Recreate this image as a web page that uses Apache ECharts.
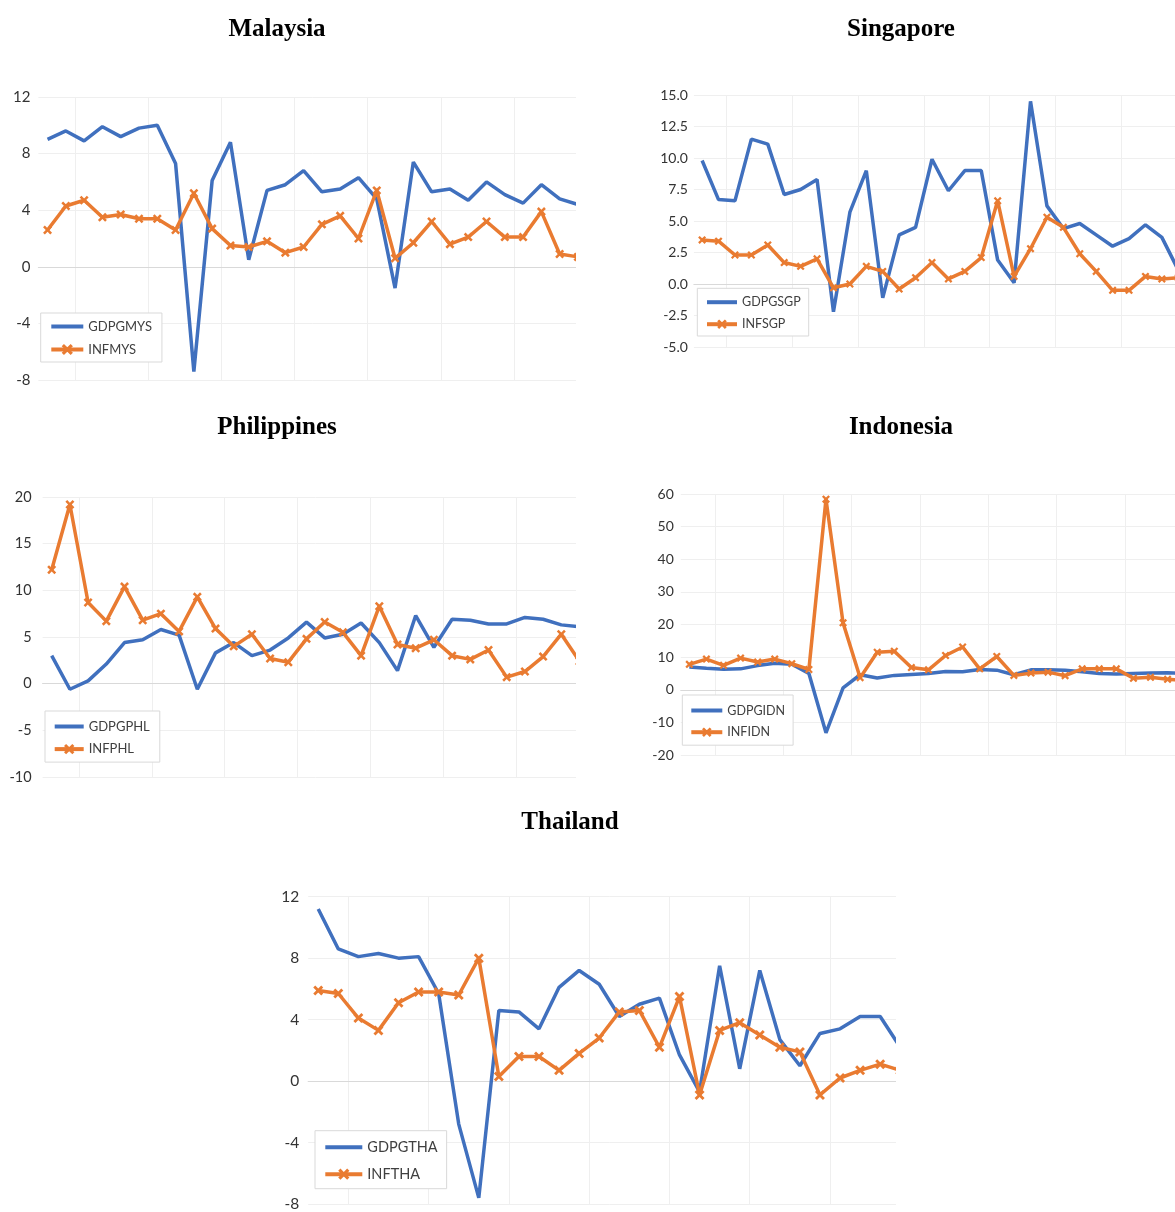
<!DOCTYPE html>
<html>
<head>
<meta charset="utf-8">
<script src="https://cdn.jsdelivr.net/npm/echarts@6/dist/echarts.min.js"></script>
<style>
html,body{margin:0;padding:0;background:#fff;width:1175px;height:1212px;overflow:hidden;position:relative;}
.wrap{position:absolute;overflow:hidden;}
.chart{position:absolute;left:0;top:0;}
</style>
</head>
<body>
<div class="wrap" style="left:0;top:0;width:576px;height:395px"><div class="chart" id="c-mys" style="width:620px;height:395px"></div></div>
<div class="wrap" style="left:590px;top:0;width:585px;height:395px"><div class="chart" id="c-sgp" style="width:640px;height:395px"></div></div>
<div class="wrap" style="left:0;top:395px;width:576px;height:395px"><div class="chart" id="c-phl" style="width:620px;height:395px"></div></div>
<div class="wrap" style="left:590px;top:395px;width:585px;height:395px"><div class="chart" id="c-idn" style="width:640px;height:395px"></div></div>
<div class="wrap" style="left:0;top:790px;width:896px;height:422px"><div class="chart" id="c-tha" style="width:940px;height:422px"></div></div>
<script>
// ---------- data ----------
const years = ['1990','1991','1992','1993','1994','1995','1996','1997','1998','1999',
               '2000','2001','2002','2003','2004','2005','2006','2007','2008','2009',
               '2010','2011','2012','2013','2014','2015','2016','2017','2018','2019'];

const gdpMYS = [9.0,9.6,8.9,9.9,9.2,9.8,10.0,7.3,-7.4,6.1,8.8,0.5,5.4,5.8,6.8,5.3,5.5,6.3,4.8,-1.5,7.4,5.3,5.5,4.7,6.0,5.1,4.5,5.8,4.8,4.4];
const infMYS = [2.6,4.3,4.7,3.5,3.7,3.4,3.4,2.6,5.2,2.7,1.5,1.4,1.8,1.0,1.4,3.0,3.6,2.0,5.4,0.6,1.7,3.2,1.6,2.1,3.2,2.1,2.1,3.9,0.9,0.7];

const gdpSGP = [9.8,6.7,6.6,11.5,11.1,7.1,7.5,8.3,-2.2,5.7,9.0,-1.1,3.9,4.5,9.9,7.4,9.0,9.0,1.9,0.1,14.5,6.2,4.4,4.8,3.9,3.0,3.6,4.7,3.7,1.1];
const infSGP = [3.5,3.4,2.3,2.3,3.1,1.7,1.4,2.0,-0.3,0.0,1.4,1.0,-0.4,0.5,1.7,0.4,1.0,2.1,6.6,0.6,2.8,5.3,4.5,2.4,1.0,-0.5,-0.5,0.6,0.4,0.5];

const gdpPHL = [3.0,-0.6,0.3,2.1,4.4,4.7,5.8,5.2,-0.6,3.3,4.4,3.0,3.6,4.9,6.6,4.9,5.3,6.5,4.4,1.4,7.3,3.9,6.9,6.8,6.4,6.4,7.1,6.9,6.3,6.1];
const infPHL = [12.2,19.2,8.7,6.7,10.4,6.8,7.5,5.6,9.3,5.9,4.0,5.3,2.7,2.3,4.8,6.6,5.5,3.0,8.3,4.2,3.8,4.7,3.0,2.6,3.6,0.7,1.3,2.9,5.3,2.4];

const gdpIDN = [7.0,6.6,6.3,6.4,7.4,8.1,7.8,5.0,-13.2,0.6,4.6,3.6,4.4,4.7,5.0,5.6,5.5,6.2,6.0,4.6,6.1,6.1,6.0,5.5,5.0,4.8,5.0,5.1,5.2,5.0];
const infIDN = [7.8,9.4,7.5,9.7,8.5,9.4,8.0,6.2,58.4,20.5,3.7,11.5,11.8,6.8,6.1,10.5,13.1,6.4,10.2,4.4,5.1,5.4,4.3,6.4,6.4,6.4,3.5,3.8,3.2,2.8];

const gdpTHA = [11.2,8.6,8.1,8.3,8.0,8.1,5.7,-2.8,-7.6,4.6,4.5,3.4,6.1,7.2,6.3,4.2,5.0,5.4,1.7,-0.7,7.5,0.8,7.2,2.7,1.0,3.1,3.4,4.2,4.2,2.2];
const infTHA = [5.9,5.7,4.1,3.3,5.1,5.8,5.8,5.6,8.0,0.3,1.6,1.6,0.7,1.8,2.8,4.5,4.6,2.2,5.5,-0.9,3.3,3.8,3.0,2.2,1.9,-0.9,0.2,0.7,1.1,0.7];

const titles = ['Malaysia','Singapore','Philippines','Indonesia','Thailand'];
const gdpNames = ['GDPGMYS','GDPGSGP','GDPGPHL','GDPGIDN','GDPGTHA'];
const infNames = ['INFMYS','INFSGP','INFPHL','INFIDN','INFTHA'];

// ---------- styling ----------
const BLUE = '#4070BE';
const ORANGE = '#E97B31';
const XMARK = 'path://M2,0 L5,3 L8,0 L10,2 L7,5 L10,8 L8,10 L5,7 L2,10 L0,8 L3,5 L0,2 Z';
const SANS = 'Lato, "Noto Sans", sans-serif';

function build(p) {
  return {
    animation: false,
    backgroundColor: '#ffffff',
    graphic: [{
      type: 'text', x: p.tx, y: p.ty, z: 100,
      style: { text: p.title, font: 'bold 25px "Liberation Serif", serif', fill: '#000',
               textAlign: 'center', textVerticalAlign: 'middle' }
    }],
    grid: { left: p.gl, top: p.gt, width: p.gw, height: p.gh, containLabel: false },
    legend: {
      orient: 'vertical', left: p.ll, top: p.lt,
      data: [
        { name: p.gdpName, itemStyle: { opacity: 0 } },
        { name: p.infName }
      ],
      itemWidth: p.iw, itemHeight: p.ih, itemGap: p.ig,
      padding: p.lp,
      lineStyle: { width: 4 },
      borderColor: '#d9d9d9', borderWidth: 1, backgroundColor: '#ffffff',
      textStyle: { fontFamily: SANS, fontSize: p.lfs, color: '#404040' },
      selectedMode: false, z: 50
    },
    xAxis: {
      type: 'category', data: years, boundaryGap: true,
      axisLabel: { show: false }, axisTick: { show: false },
      axisLine: { show: true, onZero: true, lineStyle: { color: '#d9d9d9', width: 1.2 } },
      splitLine: { show: true, interval: function (i) { return i % 4 === 2; },
                   lineStyle: { color: '#efefef', width: 1 } }
    },
    yAxis: {
      type: 'value', min: p.min, max: p.max, interval: p.step,
      axisLine: { show: false }, axisTick: { show: false },
      splitLine: { show: true, lineStyle: { color: '#efefef', width: 1 } },
      axisLabel: { fontFamily: SANS, fontSize: p.afs, color: '#333333', margin: p.am,
                   formatter: p.fmt || null }
    },
    series: [
      { name: p.gdpName, type: 'line', data: p.gdp, symbol: 'none',
        lineStyle: { color: BLUE, width: 3.5 }, itemStyle: { color: BLUE } },
      { name: p.infName, type: 'line', data: p.inf, symbol: XMARK, symbolSize: p.ms,
        showAllSymbol: true,
        lineStyle: { color: ORANGE, width: 3.5 }, itemStyle: { color: ORANGE, borderWidth: 0 } }
    ]
  };
}

const panels = [
  { id: 'c-mys', title: titles[0], tx: 277, ty: 30, gdp: gdpMYS, inf: infMYS, gdpName: gdpNames[0], infName: infNames[0],
    gl: 38.4, gt: 97, gw: 548.7, gh: 283, min: -8, max: 12, step: 4, afs: 15, am: 8,
    ll: 40.7, lt: 313, iw: 32, ih: 14, ig: 10, lp: [7, 10, 6, 8.6], lfs: 13, ms: 9 },
  { id: 'c-sgp', title: titles[1], tx: 311, ty: 30, gdp: gdpSGP, inf: infSGP, gdpName: gdpNames[1], infName: infNames[1],
    gl: 103.9, gt: 95, gw: 492.6, gh: 252, min: -5, max: 15, step: 2.5, afs: 14, am: 6,
    fmt: function (v) { return v.toFixed(1); },
    ll: 107.3, lt: 288.3, iw: 30, ih: 12, ig: 9, lp: [7.4, 8, 5.3, 7.7], lfs: 12.5, ms: 8 },
  { id: 'c-phl', title: titles[2], tx: 277, ty: 33, gdp: gdpPHL, inf: infPHL, gdpName: gdpNames[2], infName: infNames[2],
    gl: 42.6, gt: 102, gw: 546, gh: 280, min: -10, max: 20, step: 5, afs: 14.5, am: 11,
    ll: 45, lt: 316, iw: 29, ih: 13, ig: 9.6, lp: [9, 10, 6.5, 7.7], lfs: 13, ms: 9 },
  { id: 'c-idn', title: titles[3], tx: 311, ty: 33, gdp: gdpIDN, inf: infIDN, gdpName: gdpNames[3], infName: infNames[3],
    gl: 90.8, gt: 99, gw: 512.4, gh: 261, min: -20, max: 60, step: 10, afs: 14, am: 7,
    ll: 92.3, lt: 300, iw: 31, ih: 12, ig: 8.7, lp: [9, 8, 6.5, 7], lfs: 12.5, ms: 8 },
  { id: 'c-tha', title: titles[4], tx: 570, ty: 33, gdp: gdpTHA, inf: infTHA, gdpName: gdpNames[4], infName: infNames[4],
    gl: 308.2, gt: 106.7, gw: 602.1, gh: 310, min: -8, max: 12, step: 4, afs: 15.5, am: 9,
    ll: 315, lt: 340.7, iw: 37, ih: 14, ig: 12, lp: [9, 9, 7, 8.3], lfs: 14.5, ms: 10 }
];

panels.forEach(function (p) {
  const chart = echarts.init(document.getElementById(p.id), null, { renderer: 'canvas' });
  chart.setOption(build(p));
});
</script>
</body>
</html>
